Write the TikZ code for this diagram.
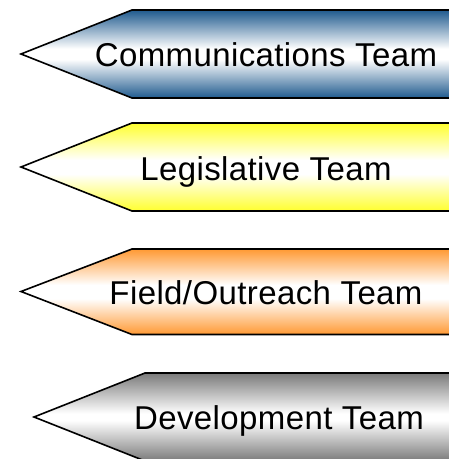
\documentclass[tikz,border=0pt]{standalone}
\usepackage{fontspec}
\setmainfont{Liberation Sans}[LetterSpace=1.2]
\usetikzlibrary{calc}

\definecolor{teamblue}{HTML}{1F5A8E}
\definecolor{teamyellow}{HTML}{FFFF2E}
\definecolor{teamorange}{HTML}{FF9933}
\definecolor{teamgray}{HTML}{7A7A7A}

% band shadings: coloured edges, white centre line (path box maps to 25bp..75bp)
\pgfdeclareverticalshading{bandblue}{100bp}{color(0bp)=(teamblue); color(25bp)=(teamblue); color(47bp)=(white); color(53bp)=(white); color(75bp)=(teamblue); color(100bp)=(teamblue)}
\pgfdeclareverticalshading{bandyellow}{100bp}{color(0bp)=(teamyellow); color(25bp)=(teamyellow); color(46bp)=(white); color(54bp)=(white); color(75bp)=(teamyellow); color(100bp)=(teamyellow)}
\pgfdeclareverticalshading{bandorange}{100bp}{color(0bp)=(teamorange); color(25bp)=(teamorange); color(46bp)=(white); color(54bp)=(white); color(75bp)=(teamorange); color(100bp)=(teamorange)}
\pgfdeclareverticalshading{bandgray}{100bp}{color(0bp)=(teamgray); color(25bp)=(teamgray); color(48bp)=(white); color(52bp)=(white); color(75bp)=(teamgray); color(100bp)=(teamgray)}

\tikzset{
  teamarrow/.style={draw=black, line width=1.6pt, line join=miter},
  teamlabel/.style={anchor=base, inner sep=0pt, font=\fontsize{33}{40}\selectfont}
}

\begin{document}
\begin{tikzpicture}[x=1pt,y=-1pt]
  \useasboundingbox (0,0) rectangle (449,459);
  \clip (0,0) rectangle (449,459);

  % Communications
  \path[teamarrow, shading=bandblue] (21,54) -- (132,10) -- (470,10) -- (470,98) -- (132,98) -- cycle;
  \node[teamlabel] (comm) at (266,66) {Communications Team};

  % Legislative
  \path[teamarrow, shading=bandyellow] (21,167) -- (132,123) -- (470,123) -- (470,211) -- (132,211) -- cycle;
  \node[teamlabel] (legis) at (266,180) {Legislative Team};

  % Field / Outreach
  \path[teamarrow, shading=bandorange] (21,291.5) -- (132,249) -- (470,249) -- (470,334.5) -- (132,334.5) -- cycle;
  \node[teamlabel] (field) at (266,304) {Field/Outreach Team};

  % Development
  \path[teamarrow, shading=bandgray] (34,417) -- (145,373) -- (470,373) -- (470,461) -- (145,461) -- cycle;
  \node[teamlabel] (devel) at (279,429) {Development Team};
\end{tikzpicture}
\end{document}
